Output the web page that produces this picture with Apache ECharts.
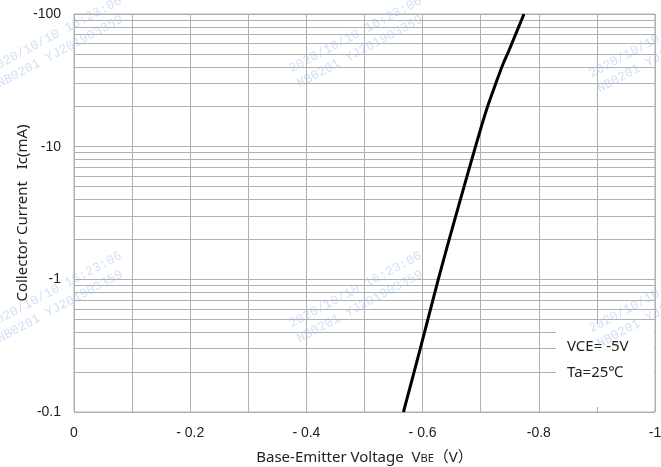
<!DOCTYPE html>
<html>
<head>
<meta charset="utf-8">
<script src="https://cdn.jsdelivr.net/npm/echarts@6/dist/echarts.min.js"></script>
<style>
html,body{margin:0;padding:0;background:#fff;}
#c{width:661px;height:467px;}
</style>
</head>
<body>
<div id="c"></div>
<script>
// Data
var vbe = [-0.567, -0.596, -0.627, -0.657, -0.691, -0.710, -0.726, -0.739, -0.749, -0.7745];
var ic  = [-0.1,   -0.3,   -1,     -3,     -10,    -19,    -30,    -42.5,  -53.5,  -100];
var xLabelValues = [0, -0.2, -0.4, -0.6, -0.8, -1];
var xLabelTexts  = ['0', '- 0.2', '- 0.4', '- 0.6', '-0.8', '-1'];
var yLabelValues = [0.1, 1, 10, 100];
var yLabelTexts  = ['-0.1', '-1', '-10', '-100'];
var minorGrid = [0.2,0.3,0.4,0.5,0.6,0.7,0.8,0.9, 2,3,4,5,6,7,8,9, 20,30,40,50,60,70,80,90];
var noteLines = ['VCE= -5V', 'Ta=25\u2103'];
var watermark = '2020/10/10 16:23:06\nNB0201 YJ201903359';
var watermarkPos = [[-14,62],[286,62],[586,67],[-14,317],[286,317],[586,322]];

var font = "'Liberation Sans', Arial, 'Noto Sans CJK JP', sans-serif";
var font2 = "'Noto Sans', 'Noto Sans CJK JP', sans-serif";
var gridColor = '#b0b0b0';

var chart = echarts.init(document.getElementById('c'), null, {renderer:'canvas'});

var graphics = [
  {type:'rect', shape:{x:556, y:324, width:98, height:83}, style:{fill:'#fff'}, z:10, silent:true},
  {type:'text', x:567, y:347, z:11, style:{text:noteLines[0], font:"15px "+font2, fill:'#222', verticalAlign:'middle'}},
  {type:'text', x:567, y:373, z:11, style:{text:noteLines[1], font:"15px "+font2, fill:'#222', verticalAlign:'middle'}}
];
watermarkPos.forEach(function(p){
  graphics.push({type:'text', x:p[0], y:p[1], rotation:28*Math.PI/180, z:20, silent:true,
    style:{text:watermark, font:"13px 'Liberation Mono', 'DejaVu Sans Mono', monospace",
      fill:'rgba(165,195,238,0.5)', lineHeight:17, align:'left', verticalAlign:'top'}});
});

chart.setOption({
  animation:false,
  backgroundColor:'#fff',
  grid:{left:74, right:6, top:14, bottom:55, containLabel:false, outerBoundsMode:'none',
        show:true, borderColor:gridColor, borderWidth:1},
  xAxis:{
    type:'value', min:-1, max:0, interval:0.1, inverse:true,
    axisLine:{show:false}, axisTick:{show:false},
    splitLine:{show:true, lineStyle:{color:gridColor, width:1}},
    axisLabel:{
      margin:14, color:'#222', fontSize:14, fontFamily:font,
      formatter:function(v){
        for (var i=0;i<xLabelValues.length;i++){ if (Math.abs(v-xLabelValues[i])<1e-9) return xLabelTexts[i]; }
        return '';
      }
    },
    name:'Base-Emitter Voltage  V{s|BE}\uFF08V\uFF09',
    nameLocation:'middle', nameGap:38,
    nameTextStyle:{color:'#222', fontSize:15, fontFamily:font2, rich:{s:{fontSize:11, fontFamily:font2, color:'#222', padding:[2,0,0,0]}}}
  },
  yAxis:{
    type:'log', logBase:10, min:0.1, max:100,
    axisLine:{show:false}, axisTick:{show:false},
    splitLine:{show:true, lineStyle:{color:gridColor, width:1}},
    axisLabel:{
      margin:13, color:'#222', fontSize:14, fontFamily:font,
      formatter:function(v){
        for (var i=0;i<yLabelValues.length;i++){ if (Math.abs(v/yLabelValues[i]-1)<1e-6) return yLabelTexts[i]; }
        return '';
      }
    },
    name:'Collector Current   Ic(mA)',
    nameLocation:'middle', nameGap:44, nameRotate:90, nameMoveOverlap:false,
    nameTextStyle:{color:'#222', fontSize:15, fontFamily:font2}
  },
  series:[
    {
      type:'line', z:1, data:[], silent:true,
      markLine:{
        silent:true, symbol:['none','none'], animation:false,
        label:{show:false},
        lineStyle:{type:'solid', color:gridColor, width:1},
        data:minorGrid.map(function(v){return {yAxis:v};})
      }
    },
    {
      type:'line', z:5, smooth:0.3, showSymbol:false, symbol:'none',
      lineStyle:{color:'#000', width:3},
      data:vbe.map(function(v,i){return [v, Math.abs(ic[i])];})
    }
  ],
  graphic:graphics
});
</script>
</body>
</html>
